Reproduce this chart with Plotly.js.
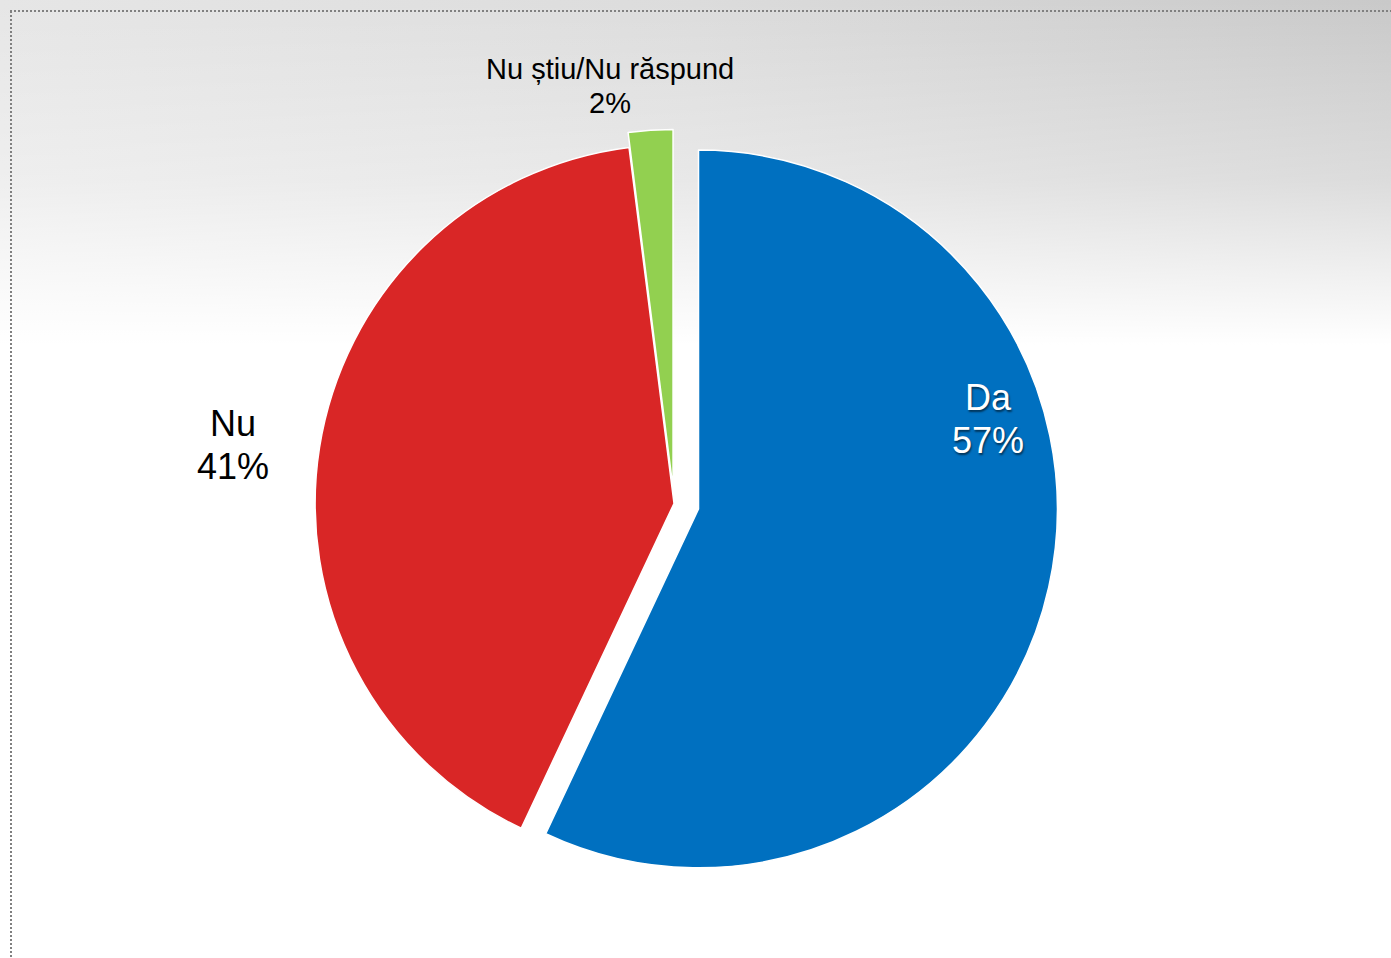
<!DOCTYPE html>
<html>
<head>
<meta charset="utf-8">
<script src="https://cdn.plot.ly/plotly-3.0.1.min.js"></script>
<style>
  html, body { margin: 0; padding: 0; }
  #chart {
    width: 1391px; height: 958px;
    background:
      linear-gradient(to bottom, rgba(255,255,255,0) 0px, rgba(255,255,255,0.35) 180px, #ffffff 345px, #ffffff 100%),
      linear-gradient(to right, #e6e6e6 0%, #dcdcdc 50%, #c9c9c9 100%);
  }
</style>
</head>
<body>
<div id="chart"></div>
<script>
const categories = ["Da", "Nu", "Nu știu/Nu răspund"];
const values = [57, 41, 2];
const colors = ["#0070C0", "#D92626", "#92D050"];
const pulls = [0.07, 0, 0.042];

// label styling / placement (pixels) per category
const labelPos = [
  {x: 988, y1: 397, y2: 440, size: 36, color: "#ffffff", shadow: "1px 2px 2px rgba(0,0,0,0.55)"},
  {x: 233, y1: 423, y2: 466, size: 36, color: "#000000", shadow: "none"},
  {x: 610, y1: 69,  y2: 103, size: 29, color: "#000000", shadow: "none"}
];

const W = 1391, H = 958;
const total = values.reduce((a, b) => a + b, 0);

const annotations = [];
categories.forEach((c, i) => {
  const p = labelPos[i];
  const pct = Math.round(values[i] / total * 100) + "%";
  [[c, p.y1], [pct, p.y2]].forEach(([t, y]) => {
    annotations.push({
      text: t, xref: "paper", yref: "paper",
      x: p.x / W, y: 1 - y / H, xanchor: "center", yanchor: "middle",
      showarrow: false,
      font: {family: "Liberation Sans, Arial, sans-serif", size: p.size, color: p.color, shadow: p.shadow}
    });
  });
});

const trace = {
  type: "pie",
  labels: categories,
  values: values,
  sort: false,
  direction: "clockwise",
  rotation: 0,
  pull: pulls,
  marker: {colors: colors, line: {color: "#ffffff", width: 1.5}},
  textinfo: "none",
  hoverinfo: "label+percent",
  domain: {x: [290 / W, 1058 / W], y: [1 - 887.5 / H, 1 - 119.5 / H]}
};

const layout = {
  width: W, height: H,
  margin: {l: 0, r: 0, t: 0, b: 0},
  paper_bgcolor: "rgba(0,0,0,0)",
  plot_bgcolor: "rgba(0,0,0,0)",
  showlegend: false,
  annotations: annotations,
  shapes: [
    {type: "line", xref: "paper", yref: "paper", x0: 10 / W, x1: 1, y0: 1 - 11 / H, y1: 1 - 11 / H,
     line: {color: "#808080", width: 2, dash: "2px,2px"}},
    {type: "line", xref: "paper", yref: "paper", x0: 11 / W, x1: 11 / W, y0: 1 - 11 / H, y1: 0,
     line: {color: "#808080", width: 2, dash: "2px,2px"}}
  ]
};

Plotly.newPlot("chart", [trace], layout, {displayModeBar: false, staticPlot: true});
</script>
</body>
</html>
